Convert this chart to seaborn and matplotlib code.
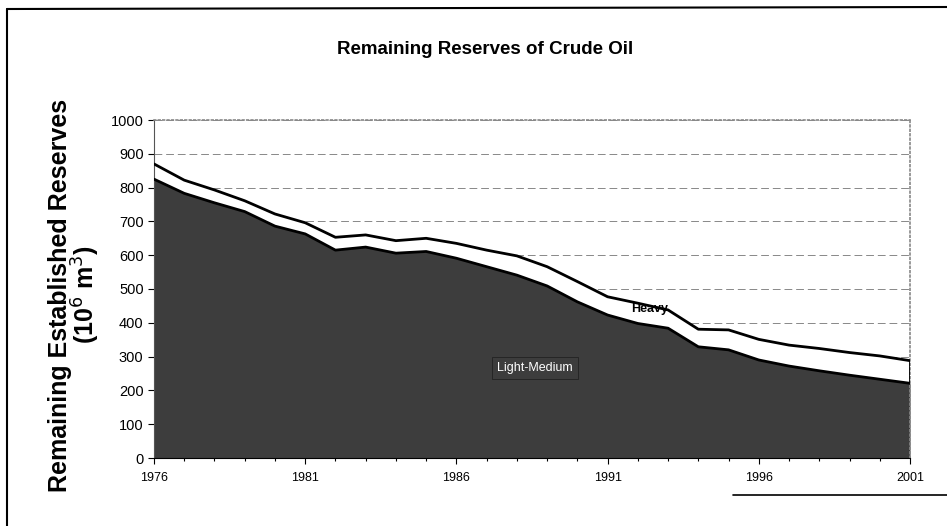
"""Remaining reserves of crude oil, stacked area (light-medium + heavy)."""
import matplotlib
matplotlib.use('Agg')
import matplotlib.pyplot as plt
from matplotlib.lines import Line2D
from matplotlib.ticker import MultipleLocator
import pandas as pd
import seaborn as sns

sns.set_style('white')
plt.rcParams['font.family'] = ['Liberation Sans', 'DejaVu Sans']
plt.rcParams['text.color'] = 'black'
plt.rcParams['xtick.color'] = 'black'
plt.rcParams['ytick.color'] = 'black'

years = list(range(1976, 2002))
light_medium = [825, 783, 755, 729, 686, 663, 615, 624, 606, 611, 591, 566, 541,
                509, 462, 423, 398, 384, 329, 320, 290, 272, 258, 245, 233, 221]
total = [870, 822, 793, 761, 722, 696, 653, 660, 643, 650, 635, 615, 598,
         566, 522, 477, 458, 438, 381, 379, 351, 334, 324, 312, 302, 288]
heavy = [t - lm for t, lm in zip(total, light_medium)]
xtick_years = [1976, 1981, 1986, 1991, 1996, 2001]

df = pd.DataFrame({'year': years, 'Light-Medium': light_medium, 'Heavy': heavy})
df['Total'] = df['Light-Medium'] + df['Heavy']

fig = plt.figure(figsize=(9.47, 5.26), dpi=100)
ax = fig.add_axes([154/947, 68/526, 756/947, 338/526])

ax.stackplot(df['year'], df['Light-Medium'], df['Heavy'],
             colors=['#3d3d3d', 'white'], linewidth=0, zorder=2)
sns.lineplot(data=df, x='year', y='Light-Medium', ax=ax, color='black', lw=2, zorder=3)
sns.lineplot(data=df, x='year', y='Total', ax=ax, color='black', lw=2, zorder=3)
ax.vlines(2001, df['Light-Medium'].iloc[-1], df['Total'].iloc[-1], color='black', lw=2, zorder=3)

ax.set_xlim(1976, 2001)
ax.set_ylim(0, 1000)
ax.yaxis.set_major_locator(MultipleLocator(100))
ax.set_xticks(xtick_years)
ax.set_xticks(years, minor=True)
ax.grid(axis='y', color='#888888', ls=(0, (8, 4)), lw=0.7, zorder=1)
ax.set_axisbelow(True)

for side in ['top', 'right']:
    ax.spines[side].set_color('#888888')
    ax.spines[side].set_linestyle(':')
    ax.spines[side].set_linewidth(1.2)
ax.spines['left'].set_color('#555555')
ax.spines['bottom'].set_color('black')

ax.tick_params(axis='both', which='major', direction='out', length=4, width=0.8,
               labelsize=10.5, bottom=True, left=True)
ax.tick_params(axis='x', which='minor', direction='out', length=2.5, width=0.8, bottom=True)
ax.tick_params(axis='x', labelsize=9, pad=6)
ax.set_xlabel('')
ax.set_ylabel('')

fig.text(75/947, 1 - 295/526, 'Remaining Established Reserves\n(10$^{6}$ m$^{3}$)',
         rotation=90, ha='center', va='center', fontsize=18, fontweight='bold',
         linespacing=0.95, multialignment='center')

ax.text(1992.4, 441, 'Heavy', ha='center', va='center', fontsize=9,
        fontweight='bold', color='black', zorder=4)
ax.text(1988.6, 266, 'Light-Medium', ha='center', va='center', fontsize=9,
        color='white', zorder=4,
        bbox=dict(boxstyle='square,pad=0.4', fc='none', ec='#222222', lw=0.6))

fig.text(485/947, 1 - 50/526, 'Remaining Reserves of Crude Oil', ha='center',
         va='center', fontsize=13.5, fontweight='bold')

# outer chart frame
fig.add_artist(Line2D([7/947, 7/947], [0, 1 - 9/526], color='black', lw=1.5))
fig.add_artist(Line2D([7/947, 1], [1 - 9/526, 1 - 7/526], color='black', lw=1.5))
fig.add_artist(Line2D([733/947, 1], [1 - 495/526, 1 - 495/526], color='black', lw=1.2))

fig.savefig('out.png', dpi=100)
plt.close(fig)
